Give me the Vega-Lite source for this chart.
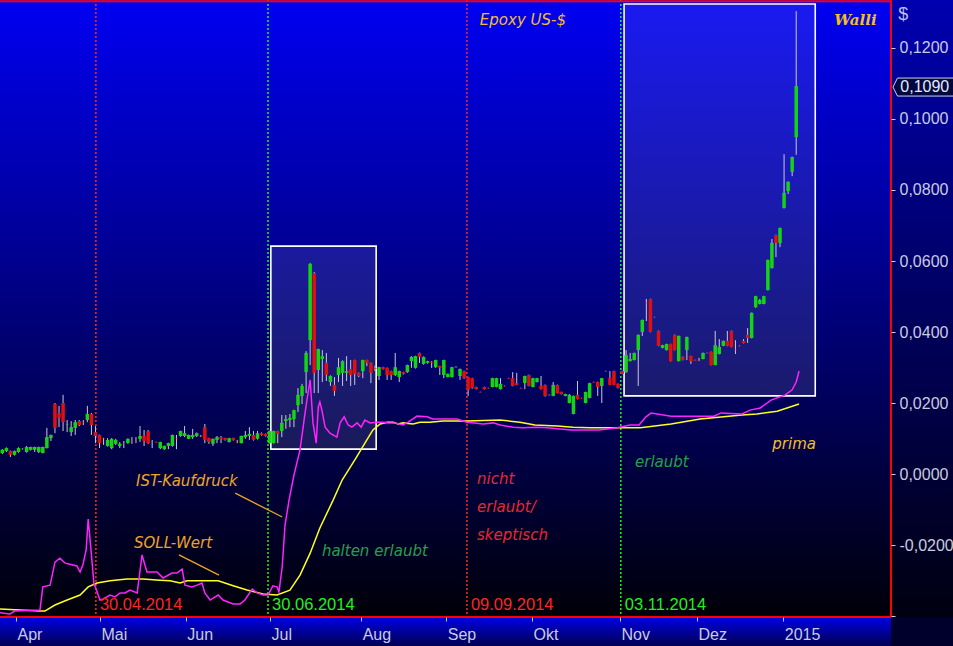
{
"$schema":"https://vega.github.io/schema/vega-lite/v6.json",
"width":891,"height":617,
"autosize":{"type":"none"},
"padding":{"left":0,"top":0,"right":62,"bottom":29},
"background":"#00002c",
"config":{"view":{"stroke":"transparent","strokeWidth":0},
 "axis":{"grid":false,"domain":false,"ticks":false,"labels":false,"titleOpacity":0}},
"datasets":{
"candles":[
{"t":0,"o":0.0059,"h":0.0070,"l":0.0056,"c":0.0068},
{"t":1,"o":0.0065,"h":0.0075,"l":0.0062,"c":0.0073},
{"t":2,"o":0.0065,"h":0.0066,"l":0.0048,"c":0.0054},
{"t":3,"o":0.0054,"h":0.0066,"l":0.0052,"c":0.0065},
{"t":4,"o":0.0062,"h":0.0075,"l":0.0060,"c":0.0073},
{"t":5,"o":0.0070,"h":0.0072,"l":0.0069,"c":0.0071},
{"t":6,"o":0.0062,"h":0.0079,"l":0.0060,"c":0.0076},
{"t":7,"o":0.0068,"h":0.0077,"l":0.0066,"c":0.0076},
{"t":8,"o":0.0068,"h":0.0077,"l":0.0062,"c":0.0076},
{"t":9,"o":0.0062,"h":0.0077,"l":0.0059,"c":0.0076},
{"t":10,"o":0.0059,"h":0.0077,"l":0.0058,"c":0.0076},
{"t":11,"o":0.0073,"h":0.0130,"l":0.0072,"c":0.0104},
{"t":12,"o":0.0101,"h":0.0111,"l":0.0093,"c":0.0110},
{"t":13,"o":0.0197,"h":0.0200,"l":0.0115,"c":0.0130},
{"t":14,"o":0.0172,"h":0.0192,"l":0.0132,"c":0.0158},
{"t":15,"o":0.0200,"h":0.0223,"l":0.0121,"c":0.0146},
{"t":16,"o":0.0138,"h":0.0152,"l":0.0118,"c":0.0139},
{"t":17,"o":0.0118,"h":0.0149,"l":0.0107,"c":0.0132},
{"t":18,"o":0.0130,"h":0.0152,"l":0.0110,"c":0.0146},
{"t":19,"o":0.0149,"h":0.0152,"l":0.0135,"c":0.0138},
{"t":20,"o":0.0146,"h":0.0152,"l":0.0138,"c":0.0145},
{"t":21,"o":0.0152,"h":0.0192,"l":0.0146,"c":0.0169},
{"t":22,"o":0.0169,"h":0.0172,"l":0.0110,"c":0.0138},
{"t":23,"o":0.0118,"h":0.0135,"l":0.0087,"c":0.0107},
{"t":24,"o":0.0110,"h":0.0111,"l":0.0073,"c":0.0087},
{"t":25,"o":0.0101,"h":0.0102,"l":0.0082,"c":0.0100},
{"t":26,"o":0.0079,"h":0.0101,"l":0.0077,"c":0.0096},
{"t":27,"o":0.0073,"h":0.0101,"l":0.0070,"c":0.0099},
{"t":28,"o":0.0085,"h":0.0099,"l":0.0082,"c":0.0096},
{"t":29,"o":0.0079,"h":0.0090,"l":0.0073,"c":0.0085},
{"t":30,"o":0.0087,"h":0.0093,"l":0.0073,"c":0.0086},
{"t":31,"o":0.0087,"h":0.0100,"l":0.0085,"c":0.0099},
{"t":32,"o":0.0096,"h":0.0104,"l":0.0085,"c":0.0095},
{"t":33,"o":0.0093,"h":0.0104,"l":0.0087,"c":0.0092},
{"t":34,"o":0.0099,"h":0.0135,"l":0.0090,"c":0.0107},
{"t":35,"o":0.0107,"h":0.0124,"l":0.0079,"c":0.0093},
{"t":36,"o":0.0121,"h":0.0124,"l":0.0085,"c":0.0087},
{"t":37,"o":0.0093,"h":0.0096,"l":0.0073,"c":0.0092},
{"t":38,"o":0.0090,"h":0.0091,"l":0.0089,"c":0.0089},
{"t":39,"o":0.0073,"h":0.0091,"l":0.0070,"c":0.0090},
{"t":40,"o":0.0070,"h":0.0080,"l":0.0068,"c":0.0079},
{"t":41,"o":0.0079,"h":0.0088,"l":0.0070,"c":0.0087},
{"t":42,"o":0.0079,"h":0.0111,"l":0.0077,"c":0.0110},
{"t":43,"o":0.0101,"h":0.0110,"l":0.0070,"c":0.0100},
{"t":44,"o":0.0107,"h":0.0122,"l":0.0105,"c":0.0121},
{"t":45,"o":0.0107,"h":0.0135,"l":0.0104,"c":0.0115},
{"t":46,"o":0.0099,"h":0.0111,"l":0.0098,"c":0.0110},
{"t":47,"o":0.0104,"h":0.0127,"l":0.0099,"c":0.0110},
{"t":48,"o":0.0107,"h":0.0117,"l":0.0104,"c":0.0115},
{"t":49,"o":0.0107,"h":0.0110,"l":0.0104,"c":0.0106},
{"t":50,"o":0.0132,"h":0.0141,"l":0.0087,"c":0.0096},
{"t":51,"o":0.0101,"h":0.0102,"l":0.0085,"c":0.0090},
{"t":52,"o":0.0085,"h":0.0100,"l":0.0079,"c":0.0099},
{"t":53,"o":0.0096,"h":0.0107,"l":0.0087,"c":0.0104},
{"t":54,"o":0.0104,"h":0.0107,"l":0.0087,"c":0.0099},
{"t":55,"o":0.0101,"h":0.0102,"l":0.0094,"c":0.0096},
{"t":56,"o":0.0090,"h":0.0102,"l":0.0089,"c":0.0101},
{"t":57,"o":0.0101,"h":0.0102,"l":0.0094,"c":0.0096},
{"t":58,"o":0.0095,"h":0.0096,"l":0.0087,"c":0.0094},
{"t":59,"o":0.0087,"h":0.0108,"l":0.0086,"c":0.0107},
{"t":60,"o":0.0104,"h":0.0121,"l":0.0099,"c":0.0110},
{"t":61,"o":0.0107,"h":0.0132,"l":0.0096,"c":0.0113},
{"t":62,"o":0.0110,"h":0.0121,"l":0.0094,"c":0.0096},
{"t":63,"o":0.0099,"h":0.0121,"l":0.0097,"c":0.0115},
{"t":64,"o":0.0115,"h":0.0117,"l":0.0108,"c":0.0110},
{"t":65,"o":0.0113,"h":0.0114,"l":0.0105,"c":0.0107},
{"t":66,"o":0.0087,"h":0.0122,"l":0.0086,"c":0.0121},
{"t":67,"o":0.0087,"h":0.0122,"l":0.0086,"c":0.0121},
{"t":68,"o":0.0121,"h":0.0122,"l":0.0087,"c":0.0113},
{"t":69,"o":0.0121,"h":0.0166,"l":0.0104,"c":0.0144},
{"t":70,"o":0.0149,"h":0.0166,"l":0.0127,"c":0.0155},
{"t":71,"o":0.0152,"h":0.0169,"l":0.0132,"c":0.0158},
{"t":72,"o":0.0155,"h":0.0181,"l":0.0132,"c":0.0180},
{"t":73,"o":0.0194,"h":0.0242,"l":0.0175,"c":0.0223},
{"t":74,"o":0.0220,"h":0.0254,"l":0.0197,"c":0.0248},
{"t":75,"o":0.0287,"h":0.0346,"l":0.0228,"c":0.0341},
{"t":76,"o":0.0377,"h":0.0594,"l":0.0307,"c":0.0592},
{"t":77,"o":0.0566,"h":0.0569,"l":0.0228,"c":0.0285},
{"t":78,"o":0.0293,"h":0.0353,"l":0.0228,"c":0.0352},
{"t":79,"o":0.0324,"h":0.0349,"l":0.0259,"c":0.0332},
{"t":80,"o":0.0313,"h":0.0341,"l":0.0262,"c":0.0279},
{"t":81,"o":0.0259,"h":0.0278,"l":0.0248,"c":0.0276},
{"t":82,"o":0.0251,"h":0.0273,"l":0.0220,"c":0.0234},
{"t":83,"o":0.0279,"h":0.0327,"l":0.0259,"c":0.0301},
{"t":84,"o":0.0285,"h":0.0320,"l":0.0248,"c":0.0318},
{"t":85,"o":0.0285,"h":0.0332,"l":0.0262,"c":0.0290},
{"t":86,"o":0.0296,"h":0.0321,"l":0.0248,"c":0.0279},
{"t":87,"o":0.0321,"h":0.0322,"l":0.0251,"c":0.0282},
{"t":88,"o":0.0285,"h":0.0286,"l":0.0273,"c":0.0276},
{"t":89,"o":0.0290,"h":0.0322,"l":0.0270,"c":0.0321},
{"t":90,"o":0.0321,"h":0.0322,"l":0.0304,"c":0.0313},
{"t":91,"o":0.0313,"h":0.0314,"l":0.0256,"c":0.0285},
{"t":92,"o":0.0299,"h":0.0305,"l":0.0290,"c":0.0297},
{"t":93,"o":0.0276,"h":0.0302,"l":0.0265,"c":0.0301},
{"t":94,"o":0.0301,"h":0.0302,"l":0.0294,"c":0.0296},
{"t":95,"o":0.0299,"h":0.0300,"l":0.0265,"c":0.0279},
{"t":96,"o":0.0290,"h":0.0291,"l":0.0265,"c":0.0279},
{"t":97,"o":0.0279,"h":0.0341,"l":0.0276,"c":0.0301},
{"t":98,"o":0.0273,"h":0.0291,"l":0.0259,"c":0.0290},
{"t":99,"o":0.0287,"h":0.0288,"l":0.0280,"c":0.0282},
{"t":100,"o":0.0287,"h":0.0308,"l":0.0285,"c":0.0307},
{"t":101,"o":0.0318,"h":0.0332,"l":0.0299,"c":0.0330},
{"t":102,"o":0.0299,"h":0.0333,"l":0.0297,"c":0.0332},
{"t":103,"o":0.0341,"h":0.0342,"l":0.0313,"c":0.0330},
{"t":104,"o":0.0310,"h":0.0331,"l":0.0308,"c":0.0330},
{"t":105,"o":0.0313,"h":0.0319,"l":0.0311,"c":0.0318},
{"t":106,"o":0.0315,"h":0.0318,"l":0.0299,"c":0.0313},
{"t":107,"o":0.0301,"h":0.0322,"l":0.0299,"c":0.0321},
{"t":108,"o":0.0304,"h":0.0305,"l":0.0279,"c":0.0299},
{"t":109,"o":0.0279,"h":0.0322,"l":0.0270,"c":0.0321},
{"t":110,"o":0.0273,"h":0.0283,"l":0.0272,"c":0.0282},
{"t":111,"o":0.0273,"h":0.0302,"l":0.0272,"c":0.0301},
{"t":112,"o":0.0301,"h":0.0303,"l":0.0300,"c":0.0302},
{"t":113,"o":0.0276,"h":0.0297,"l":0.0265,"c":0.0296},
{"t":114,"o":0.0290,"h":0.0291,"l":0.0268,"c":0.0270},
{"t":115,"o":0.0273,"h":0.0274,"l":0.0220,"c":0.0237},
{"t":116,"o":0.0270,"h":0.0271,"l":0.0240,"c":0.0242},
{"t":117,"o":0.0245,"h":0.0246,"l":0.0238,"c":0.0239},
{"t":118,"o":0.0231,"h":0.0232,"l":0.0230,"c":0.0230},
{"t":119,"o":0.0245,"h":0.0246,"l":0.0238,"c":0.0239},
{"t":120,"o":0.0242,"h":0.0243,"l":0.0241,"c":0.0241},
{"t":121,"o":0.0245,"h":0.0271,"l":0.0244,"c":0.0270},
{"t":122,"o":0.0245,"h":0.0271,"l":0.0244,"c":0.0270},
{"t":123,"o":0.0239,"h":0.0270,"l":0.0238,"c":0.0254},
{"t":124,"o":0.0248,"h":0.0249,"l":0.0247,"c":0.0247},
{"t":125,"o":0.0270,"h":0.0271,"l":0.0269,"c":0.0269},
{"t":126,"o":0.0270,"h":0.0287,"l":0.0247,"c":0.0248},
{"t":127,"o":0.0256,"h":0.0285,"l":0.0250,"c":0.0251},
{"t":128,"o":0.0242,"h":0.0243,"l":0.0241,"c":0.0241},
{"t":129,"o":0.0256,"h":0.0277,"l":0.0239,"c":0.0276},
{"t":130,"o":0.0279,"h":0.0280,"l":0.0247,"c":0.0248},
{"t":131,"o":0.0245,"h":0.0271,"l":0.0244,"c":0.0270},
{"t":132,"o":0.0259,"h":0.0271,"l":0.0258,"c":0.0270},
{"t":133,"o":0.0248,"h":0.0276,"l":0.0238,"c":0.0239},
{"t":134,"o":0.0251,"h":0.0252,"l":0.0218,"c":0.0220},
{"t":135,"o":0.0223,"h":0.0224,"l":0.0221,"c":0.0222},
{"t":136,"o":0.0220,"h":0.0259,"l":0.0219,"c":0.0251},
{"t":137,"o":0.0251,"h":0.0252,"l":0.0227,"c":0.0228},
{"t":138,"o":0.0231,"h":0.0232,"l":0.0224,"c":0.0225},
{"t":139,"o":0.0220,"h":0.0226,"l":0.0219,"c":0.0225},
{"t":140,"o":0.0200,"h":0.0225,"l":0.0199,"c":0.0223},
{"t":141,"o":0.0169,"h":0.0221,"l":0.0168,"c":0.0220},
{"t":142,"o":0.0223,"h":0.0262,"l":0.0210,"c":0.0211},
{"t":143,"o":0.0214,"h":0.0215,"l":0.0213,"c":0.0213},
{"t":144,"o":0.0200,"h":0.0232,"l":0.0199,"c":0.0231},
{"t":145,"o":0.0214,"h":0.0257,"l":0.0213,"c":0.0256},
{"t":146,"o":0.0259,"h":0.0260,"l":0.0258,"c":0.0258},
{"t":147,"o":0.0259,"h":0.0260,"l":0.0220,"c":0.0245},
{"t":148,"o":0.0248,"h":0.0271,"l":0.0200,"c":0.0270},
{"t":149,"o":0.0290,"h":0.0291,"l":0.0289,"c":0.0289},
{"t":150,"o":0.0270,"h":0.0290,"l":0.0250,"c":0.0251},
{"t":151,"o":0.0290,"h":0.0291,"l":0.0250,"c":0.0251},
{"t":152,"o":0.0254,"h":0.0255,"l":0.0241,"c":0.0242},
{"t":153,"o":0.0290,"h":0.0291,"l":0.0281,"c":0.0282},
{"t":154,"o":0.0287,"h":0.0349,"l":0.0285,"c":0.0335},
{"t":155,"o":0.0318,"h":0.0341,"l":0.0317,"c":0.0324},
{"t":156,"o":0.0321,"h":0.0342,"l":0.0320,"c":0.0341},
{"t":157,"o":0.0349,"h":0.0393,"l":0.0248,"c":0.0392},
{"t":158,"o":0.0400,"h":0.0435,"l":0.0389,"c":0.0434},
{"t":159,"o":0.0482,"h":0.0493,"l":0.0431,"c":0.0481},
{"t":160,"o":0.0493,"h":0.0494,"l":0.0399,"c":0.0400},
{"t":161,"o":0.0442,"h":0.0443,"l":0.0441,"c":0.0441},
{"t":162,"o":0.0403,"h":0.0404,"l":0.0360,"c":0.0361},
{"t":163,"o":0.0355,"h":0.0364,"l":0.0354,"c":0.0363},
{"t":164,"o":0.0349,"h":0.0367,"l":0.0348,"c":0.0366},
{"t":165,"o":0.0366,"h":0.0367,"l":0.0317,"c":0.0318},
{"t":166,"o":0.0392,"h":0.0393,"l":0.0348,"c":0.0349},
{"t":167,"o":0.0318,"h":0.0390,"l":0.0317,"c":0.0389},
{"t":168,"o":0.0330,"h":0.0331,"l":0.0320,"c":0.0321},
{"t":169,"o":0.0349,"h":0.0387,"l":0.0321,"c":0.0386},
{"t":170,"o":0.0332,"h":0.0333,"l":0.0310,"c":0.0318},
{"t":171,"o":0.0321,"h":0.0322,"l":0.0320,"c":0.0320},
{"t":172,"o":0.0320,"h":0.0327,"l":0.0318,"c":0.0319},
{"t":173,"o":0.0324,"h":0.0342,"l":0.0323,"c":0.0341},
{"t":174,"o":0.0341,"h":0.0342,"l":0.0340,"c":0.0340},
{"t":175,"o":0.0344,"h":0.0345,"l":0.0306,"c":0.0307},
{"t":176,"o":0.0307,"h":0.0403,"l":0.0306,"c":0.0363},
{"t":177,"o":0.0338,"h":0.0380,"l":0.0337,"c":0.0358},
{"t":178,"o":0.0361,"h":0.0376,"l":0.0360,"c":0.0375},
{"t":179,"o":0.0375,"h":0.0403,"l":0.0360,"c":0.0361},
{"t":180,"o":0.0403,"h":0.0404,"l":0.0357,"c":0.0358},
{"t":181,"o":0.0350,"h":0.0377,"l":0.0338,"c":0.0349},
{"t":182,"o":0.0361,"h":0.0362,"l":0.0360,"c":0.0360},
{"t":183,"o":0.0375,"h":0.0380,"l":0.0368,"c":0.0369},
{"t":184,"o":0.0392,"h":0.0411,"l":0.0369,"c":0.0383},
{"t":185,"o":0.0383,"h":0.0455,"l":0.0382,"c":0.0454},
{"t":186,"o":0.0470,"h":0.0502,"l":0.0468,"c":0.0501},
{"t":187,"o":0.0479,"h":0.0493,"l":0.0478,"c":0.0490},
{"t":188,"o":0.0479,"h":0.0502,"l":0.0478,"c":0.0501},
{"t":189,"o":0.0518,"h":0.0604,"l":0.0517,"c":0.0603},
{"t":190,"o":0.0580,"h":0.0662,"l":0.0579,"c":0.0651},
{"t":191,"o":0.0673,"h":0.0674,"l":0.0611,"c":0.0651},
{"t":192,"o":0.0651,"h":0.0694,"l":0.0639,"c":0.0693},
{"t":193,"o":0.0749,"h":0.0901,"l":0.0748,"c":0.0792},
{"t":194,"o":0.0797,"h":0.0824,"l":0.0789,"c":0.0823},
{"t":195,"o":0.0851,"h":0.0894,"l":0.0839,"c":0.0893},
{"t":196,"o":0.0949,"h":0.1304,"l":0.0899,"c":0.1093}
],
"ist":[
{"t":-0.57,"v":-0.0391},{"t":1.9,"v":-0.0394},{"t":3.1,"v":-0.0386},{"t":9.3,"v":-0.0383},{"t":10.0,"v":-0.0318},{"t":11.8,"v":-0.0313},{"t":13.0,"v":-0.0248},{"t":14.2,"v":-0.0237},{"t":15.5,"v":-0.0251},{"t":16.7,"v":-0.0254},{"t":18.4,"v":-0.0259},{"t":19.2,"v":-0.0276},{"t":19.9,"v":-0.0256},{"t":20.7,"v":-0.0214},{"t":21.2,"v":-0.0127},{"t":21.9,"v":-0.0214},{"t":22.6,"v":-0.0307},{"t":23.4,"v":-0.0332},{"t":24.1,"v":-0.0355},{"t":24.9,"v":-0.0352},{"t":26.6,"v":-0.0341},{"t":27.8,"v":-0.0346},{"t":29.1,"v":-0.0335},{"t":30.3,"v":-0.0335},{"t":31.5,"v":-0.0327},{"t":33.3,"v":-0.0335},{"t":34.5,"v":-0.0228},{"t":35.7,"v":-0.0276},{"t":38.2,"v":-0.0276},{"t":39.7,"v":-0.0293},{"t":41.9,"v":-0.0279},{"t":43.1,"v":-0.0279},{"t":44.4,"v":-0.0268},{"t":45.1,"v":-0.0313},{"t":46.8,"v":-0.0318},{"t":48.1,"v":-0.0313},{"t":49.3,"v":-0.0307},{"t":50.0,"v":-0.0335},{"t":51.3,"v":-0.0355},{"t":53.3,"v":-0.0341},{"t":54.5,"v":-0.0355},{"t":57.0,"v":-0.0366},{"t":58.7,"v":-0.0366},{"t":59.9,"v":-0.0355},{"t":61.7,"v":-0.0324},{"t":62.9,"v":-0.0335},{"t":64.4,"v":-0.0341},{"t":65.6,"v":-0.0341},{"t":66.8,"v":-0.0315},{"t":67.8,"v":-0.0318},{"t":68.3,"v":-0.0332},{"t":69.1,"v":-0.0262},{"t":69.8,"v":-0.0144},{"t":70.8,"v":-0.0073},{"t":72.0,"v":-0.0003},{"t":73.5,"v":0.0068},{"t":74.5,"v":0.0152},{"t":75.2,"v":0.0208},{"t":76.0,"v":0.0265},{"t":76.7,"v":0.0144},{"t":77.5,"v":0.0087},{"t":78.0,"v":0.0189},{"t":78.4,"v":0.0203},{"t":78.9,"v":0.0180},{"t":79.7,"v":0.0132},{"t":80.9,"v":0.0115},{"t":82.6,"v":0.0104},{"t":83.4,"v":0.0144},{"t":84.4,"v":0.0161},{"t":85.4,"v":0.0138},{"t":86.3,"v":0.0132},{"t":87.6,"v":0.0144},{"t":88.6,"v":0.0132},{"t":89.5,"v":0.0152},{"t":90.8,"v":0.0144},{"t":92.5,"v":0.0146},{"t":94.0,"v":0.0146},{"t":95.2,"v":0.0144},{"t":96.9,"v":0.0144},{"t":98.9,"v":0.0138},{"t":100.2,"v":0.0146},{"t":102.4,"v":0.0163},{"t":104.9,"v":0.0161},{"t":106.3,"v":0.0155},{"t":108.8,"v":0.0155},{"t":112.3,"v":0.0155},{"t":114.7,"v":0.0146},{"t":116.5,"v":0.0144},{"t":118.7,"v":0.0141},{"t":121.2,"v":0.0144},{"t":122.9,"v":0.0138},{"t":126.1,"v":0.0132},{"t":128.6,"v":0.0130},{"t":132.0,"v":0.0132},{"t":134.5,"v":0.0130},{"t":137.7,"v":0.0127},{"t":140.4,"v":0.0124},{"t":147.3,"v":0.0124},{"t":151.8,"v":0.0130},{"t":155.0,"v":0.0138},{"t":157.2,"v":0.0138},{"t":158.9,"v":0.0161},{"t":160.2,"v":0.0172},{"t":165.1,"v":0.0163},{"t":175.7,"v":0.0163},{"t":177.4,"v":0.0172},{"t":182.6,"v":0.0169},{"t":184.6,"v":0.0180},{"t":187.1,"v":0.0186},{"t":189.8,"v":0.0208},{"t":193.3,"v":0.0223},{"t":195.0,"v":0.0237},{"t":196.0,"v":0.0259},{"t":196.7,"v":0.0290}
],
"soll":[
{"t":-0.57,"v":-0.0380},{"t":9.3,"v":-0.0386},{"t":10.5,"v":-0.0386},{"t":13.0,"v":-0.0369},{"t":16.0,"v":-0.0355},{"t":19.2,"v":-0.0341},{"t":21.2,"v":-0.0318},{"t":23.4,"v":-0.0307},{"t":26.6,"v":-0.0301},{"t":30.8,"v":-0.0296},{"t":34.7,"v":-0.0296},{"t":38.9,"v":-0.0299},{"t":41.4,"v":-0.0301},{"t":43.9,"v":-0.0307},{"t":45.6,"v":-0.0301},{"t":48.8,"v":-0.0301},{"t":53.3,"v":-0.0301},{"t":57.0,"v":-0.0315},{"t":60.4,"v":-0.0327},{"t":64.4,"v":-0.0338},{"t":67.8,"v":-0.0341},{"t":71.0,"v":-0.0327},{"t":73.5,"v":-0.0285},{"t":76.0,"v":-0.0223},{"t":78.4,"v":-0.0152},{"t":81.7,"v":-0.0073},{"t":83.9,"v":-0.0017},{"t":87.3,"v":0.0045},{"t":90.0,"v":0.0096},{"t":91.5,"v":0.0124},{"t":93.3,"v":0.0141},{"t":95.0,"v":0.0146},{"t":96.5,"v":0.0146},{"t":97.7,"v":0.0141},{"t":98.9,"v":0.0144},{"t":101.4,"v":0.0141},{"t":103.1,"v":0.0146},{"t":105.6,"v":0.0146},{"t":108.8,"v":0.0149},{"t":114.7,"v":0.0149},{"t":122.9,"v":0.0152},{"t":127.8,"v":0.0146},{"t":131.5,"v":0.0138},{"t":137.0,"v":0.0135},{"t":140.9,"v":0.0132},{"t":145.1,"v":0.0130},{"t":157.5,"v":0.0130},{"t":165.1,"v":0.0141},{"t":172.3,"v":0.0155},{"t":182.6,"v":0.0166},{"t":186.3,"v":0.0169},{"t":191.3,"v":0.0177},{"t":196.7,"v":0.0197}
],
"boxes":[
{"t1":66.3,"t2":92.3,"v1":0.0070,"v2":0.0642},
{"t1":153.5,"t2":200.7,"v1":0.0220,"v2":0.1324}
],
"signals":[
{"t":23.1,"g":"sig-rot","lbl":"30.04.2014"},
{"t":65.6,"g":"sig-gruen","lbl":"30.06.2014"},
{"t":114.7,"g":"sig-rot","lbl":"09.09.2014"},
{"t":152.7,"g":"sig-gruen","lbl":"03.11.2014"}
],
"leaders":[
{"t1":57.5,"v1":-0.0054,"t2":69.1,"v2":-0.0121},
{"t1":43.6,"v1":-0.0228,"t2":53.5,"v2":-0.0285}
],
"notes":[
{"t":117.9,"v":0.1279,"txt":"Epoxy US-$","g":"gold"},
{"t":33.0,"v":-0.0020,"txt":"IST-Kaufdruck","g":"orange"},
{"t":32.5,"v":-0.0194,"txt":"SOLL-Wert","g":"orange"},
{"t":78.9,"v":-0.0217,"txt":"halten erlaubt","g":"gruen"},
{"t":117.2,"v":-0.0014,"txt":"nicht","g":"rot"},
{"t":117.2,"v":-0.0093,"txt":"erlaubt/","g":"rot"},
{"t":117.2,"v":-0.0172,"txt":"skeptisch","g":"rot"},
{"t":156.2,"v":0.0034,"txt":"erlaubt","g":"gruen"},
{"t":190.1,"v":0.0085,"txt":"prima","g":"gold"}
]
},
"layer":[
{"data":{"values":[{}]},
 "mark":{"type":"rect","fill":{"gradient":"linear","x1":0,"y1":0,"x2":0,"y2":1,"stops":[{"offset":0,"color":"#0000f2"},{"offset":1,"color":"#000008"}]}},
 "encoding":{
  "x":{"datum":-0.57,"type":"quantitative","scale":{"domain":[-0.57,219.4],"nice":false,"zero":false,"padding":0},
   "axis":{"title":null,"zindex":1,"orient":"bottom","domain":false,"ticks":true,"labels":true,"tickColor":"#c8cce0","tickSize":4,"labelColor":"#c8cce0","labelFont":"Liberation Sans","labelFontSize":16,"labelOverlap":false,"labelFlush":false,"labelBound":false,
    "values":[3.38,24.1,45.3,66.1,88.6,109.6,130.8,152.5,171.5,192.8],
    "labelExpr":"datum.value < 10 ? 'Apr' : datum.value < 30 ? 'Mai' : datum.value < 50 ? 'Jun' : datum.value < 70 ? 'Jul' : datum.value < 95 ? 'Aug' : datum.value < 115 ? 'Sep' : datum.value < 140 ? 'Okt' : datum.value < 160 ? 'Nov' : datum.value < 180 ? 'Dez' : '2015'",
    "labelAlign":"left","labelBaseline":"top","labelPadding":5,"labelOffset":1}},
  "x2":{"datum":219.4},
  "y":{"datum":0.13352,"type":"quantitative","scale":{"domain":[-0.04028,0.13352],"nice":false,"zero":false},
   "axis":{"title":null,"zindex":1,"orient":"right","domain":false,"ticks":true,"labels":true,"tickColor":"#c8cce0","tickSize":4,"labelColor":"#c8cce0","labelFont":"Liberation Sans","labelFontSize":16,"labelOverlap":false,"labelFlush":false,"labelBound":false,
    "values":[-0.04,-0.035,-0.03,-0.025,-0.02,-0.015,-0.01,-0.005,0,0.005,0.01,0.015,0.02,0.025,0.03,0.035,0.04,0.045,0.05,0.055,0.06,0.065,0.07,0.075,0.08,0.085,0.09,0.095,0.1,0.105,0.11,0.115,0.12,0.125,0.13],
    "labelExpr":"datum.value > -0.03 && abs(datum.value/0.02 - round(datum.value/0.02)) < 0.01 ? (datum.value < -0.0001 ? '-' : '') + replace(format(abs(datum.value), '.4f'), '.', ',') : ''",
    "labelPadding":4,"labelBaseline":"middle"}},
  "y2":{"datum":-0.04028}}},
{"data":{"values":[{}]},
 "mark":{"type":"rect","fill":{"gradient":"linear","x1":0,"y1":0,"x2":0,"y2":1,"stops":[{"offset":0,"color":"#0000b0"},{"offset":1,"color":"#000010"}]}},
 "encoding":{
  "x":{"datum":219.4,"type":"quantitative"},
  "x2":{"datum":236},
  "y":{"datum":0.13352,"type":"quantitative"},
  "y2":{"datum":-0.04028}}},
{"data":{"values":[{}]},
 "mark":{"type":"rect","fill":{"gradient":"linear","x1":0,"y1":0,"x2":0,"y2":1,"stops":[{"offset":0,"color":"#0000e6"},{"offset":1,"color":"#000050"}]}},
 "encoding":{
  "x":{"datum":-0.57,"type":"quantitative"},
  "x2":{"datum":219.4},
  "y":{"datum":-0.04028,"type":"quantitative"},
  "y2":{"datum":-0.0485}}},
{"data":{"name":"boxes"},
 "mark":{"type":"rect","fill":"#ffffff","fillOpacity":0.1,"stroke":"#ffffff","strokeWidth":1.6},
 "encoding":{
  "x":{"field":"t1","type":"quantitative"},"x2":{"field":"t2"},
  "y":{"field":"v1","type":"quantitative"},"y2":{"field":"v2"}}},
{"data":{"name":"signals"},
 "mark":{"type":"rule","strokeDash":[2,2],"strokeWidth":1.5},
 "encoding":{
  "x":{"field":"t","type":"quantitative"},
  "color":{"field":"g","type":"nominal","legend":null,"scale":{"domain":["gold","orange","gruen","rot","sig-rot","sig-gruen"],"range":["#f2bd2e","#eea326","#23a04c","#e42a2a","#ff2525","#22f022"]}}}},
{"data":{"name":"soll"},
 "mark":{"type":"line","color":"#ffff20","strokeWidth":1.5},
 "encoding":{"x":{"field":"t","type":"quantitative"},"y":{"field":"v","type":"quantitative"}}},
{"data":{"name":"ist"},
 "mark":{"type":"line","color":"#ff22ff","strokeWidth":1.5},
 "encoding":{"x":{"field":"t","type":"quantitative"},"y":{"field":"v","type":"quantitative"}}},
{"data":{"name":"candles"},
 "mark":{"type":"rule","color":"#c8c8d8","strokeWidth":1},
 "encoding":{
  "x":{"field":"t","type":"quantitative"},
  "y":{"field":"l","type":"quantitative"},
  "y2":{"field":"h"}}},
{"data":{"name":"candles"},
 "mark":{"type":"bar","width":3.5},
 "encoding":{
  "x":{"field":"t","type":"quantitative"},
  "y":{"field":"o","type":"quantitative"},
  "y2":{"field":"c"},
  "color":{"condition":{"test":"datum.c >= datum.o","value":"#14d414"},"value":"#e01010"}}},
{"data":{"name":"leaders"},
 "mark":{"type":"rule","color":"#eea326","strokeWidth":1.3},
 "encoding":{
  "x":{"field":"t1","type":"quantitative"},"x2":{"field":"t2"},
  "y":{"field":"v1","type":"quantitative"},"y2":{"field":"v2"}}},
{"data":{"name":"notes"},
 "mark":{"type":"text","align":"left","baseline":"middle","font":"DejaVu Sans","fontStyle":"italic","fontSize":15},
 "encoding":{
  "x":{"field":"t","type":"quantitative"},
  "y":{"field":"v","type":"quantitative"},
  "text":{"field":"txt"},
  "color":{"field":"g","type":"nominal","legend":null,"scale":{"domain":["gold","orange","gruen","rot","sig-rot","sig-gruen"],"range":["#f2bd2e","#eea326","#23a04c","#e42a2a","#ff2525","#22f022"]}}}},
{"data":{"name":"signals"},
 "mark":{"type":"text","align":"left","baseline":"middle","font":"Liberation Sans","fontSize":16.5,"dx":4},
 "encoding":{
  "x":{"field":"t","type":"quantitative"},
  "y":{"datum":-0.0369,"type":"quantitative"},
  "text":{"field":"lbl"},
  "color":{"field":"g","type":"nominal","legend":null,"scale":{"domain":["gold","orange","gruen","rot","sig-rot","sig-gruen"],"range":["#f2bd2e","#eea326","#23a04c","#e42a2a","#ff2525","#22f022"]}}}},
{"data":{"values":[{"txt":"Walli"}]},
 "mark":{"type":"text","align":"left","baseline":"middle","font":"DejaVu Serif","fontStyle":"italic","fontWeight":"bold","fontSize":15,"color":"#f2c020"},
 "encoding":{
  "x":{"datum":205.4,"type":"quantitative"},
  "y":{"datum":0.1279,"type":"quantitative"},
  "text":{"field":"txt"}}},
{"data":{"values":[{"txt":"$"}]},
 "mark":{"type":"text","align":"left","baseline":"middle","font":"Liberation Sans","fontSize":18,"color":"#b8c0e8"},
 "encoding":{
  "x":{"datum":221.2,"type":"quantitative"},
  "y":{"datum":0.1293,"type":"quantitative"},
  "text":{"field":"txt"}}},
{"data":{"values":[{}]},
 "mark":{"type":"rule","color":"#ff0000","strokeWidth":2},
 "encoding":{"y":{"datum":0.1332,"type":"quantitative"}}},
{"data":{"values":[{}]},
 "mark":{"type":"rule","color":"#ff0000","strokeWidth":2},
 "encoding":{"y":{"datum":-0.04028,"type":"quantitative"}}},
{"data":{"values":[{}]},
 "mark":{"type":"rule","color":"#ff0000","strokeWidth":2},
 "encoding":{"x":{"datum":219.4,"type":"quantitative"}}},
{"data":{"values":[{}]},
 "mark":{"type":"point","filled":true,"shape":"M -1 0 L -0.85 -0.3 L 1.2 -0.3 L 1.2 0.3 L -0.85 0.3 Z","size":3600,"fill":"#000840","fillOpacity":1,"stroke":"#d0d0e8","strokeWidth":1,"opacity":1},
 "encoding":{
  "x":{"datum":227.3,"type":"quantitative"},
  "y":{"datum":0.109,"type":"quantitative"}}},
{"data":{"values":[{"txt":"0,1090"}]},
 "mark":{"type":"text","align":"left","baseline":"middle","font":"Liberation Sans","fontSize":16,"color":"#e8e8f8"},
 "encoding":{
  "x":{"datum":221.7,"type":"quantitative"},
  "y":{"datum":0.109,"type":"quantitative"},
  "text":{"field":"txt"}}}
]
}
